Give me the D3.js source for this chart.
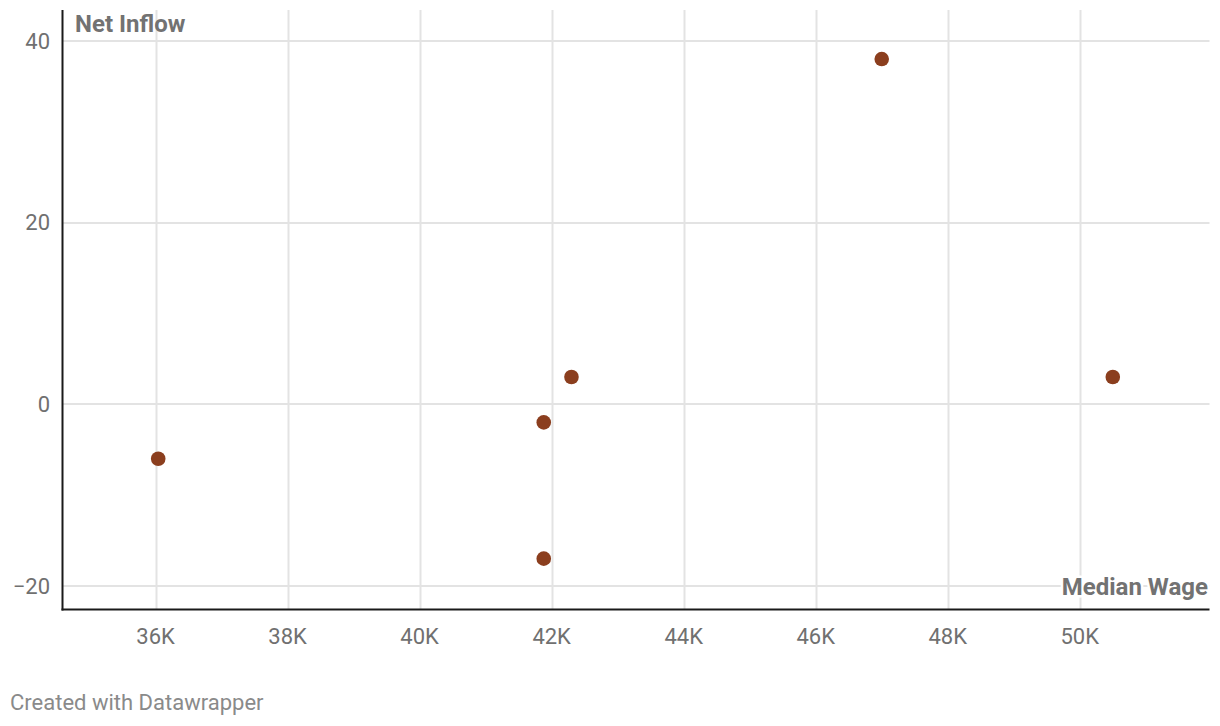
<!DOCTYPE html>
<html>
<head>
<meta charset="utf-8">
<script src="https://cdn.jsdelivr.net/npm/d3@7"></script>
<style>
  html, body { margin: 0; padding: 0; background: #fff; }
  svg { display: block; font-family: Roboto, "Noto Sans", sans-serif; }
</style>
</head>
<body>
<svg id="chart" width="1220" height="726"></svg>
<script>
const wages = [36040, 41880, 41880, 42300, 47000, 50500];
const inflows = [-6, -2, -17, 3, 38, 3];
const xTicks = [36000, 38000, 40000, 42000, 44000, 46000, 48000, 50000];
const yTicks = [-20, 0, 20, 40];
const xTitle = "Median Wage";
const yTitle = "Net Inflow";
const credit = "Created with Datawrapper";

(function () {
const svg = d3.select("#chart");
const pL = 62.5, pR = 1209.5, pT = 10, pB = 609.5;

const x = d3.scaleLinear().domain([34590, 51965]).range([pL, pR]);
const y = d3.scaleLinear().domain([-22.6, 43.4]).range([pB, pT]);

// grid
svg.append("g").selectAll("line").data(xTicks).join("line")
  .attr("x1", d => Math.round(x(d)) + 0.5).attr("x2", d => Math.round(x(d)) + 0.5)
  .attr("y1", pT).attr("y2", pB)
  .attr("stroke", "#e3e3e3").attr("stroke-width", 2);
svg.append("g").selectAll("line").data(yTicks).join("line")
  .attr("y1", d => Math.round(y(d))).attr("y2", d => Math.round(y(d)))
  .attr("x1", pL).attr("x2", pR)
  .attr("stroke", "#e3e3e3").attr("stroke-width", 2);

// axes lines
svg.append("line").attr("x1", pL).attr("x2", pL).attr("y1", pT).attr("y2", pB + 1)
  .attr("stroke", "#1a1a1a").attr("stroke-width", 2);
svg.append("line").attr("x1", pL - 1).attr("x2", pR).attr("y1", pB).attr("y2", pB)
  .attr("stroke", "#1a1a1a").attr("stroke-width", 2);

// tick labels
svg.append("g").selectAll("text").data(yTicks).join("text")
  .attr("x", 50).attr("y", d => y(d)).attr("dy", "0.36em")
  .attr("text-anchor", "end").attr("font-size", 22).attr("fill", "#707070")
  .text(d => d < 0 ? "\u2212" + Math.abs(d) : d);
svg.append("g").selectAll("text").data(xTicks).join("text")
  .attr("x", d => x(d)).attr("y", 644)
  .attr("text-anchor", "middle").attr("font-size", 22).attr("fill", "#707070")
  .text(d => (d / 1000) + "K");

// titles
svg.append("text").attr("x", 75).attr("y", 32)
  .attr("font-size", 24).attr("font-weight", 700).attr("fill", "#727272")
  .text(yTitle);
svg.append("text").attr("x", 1208).attr("y", 595)
  .attr("text-anchor", "end").attr("font-size", 24).attr("font-weight", 700)
  .attr("fill", "#727272").attr("stroke", "#fff").attr("stroke-width", 5)
  .attr("paint-order", "stroke").attr("stroke-linejoin", "round")
  .text(xTitle);

// points
svg.append("g").selectAll("circle").data(wages.map((w, i) => [w, inflows[i]])).join("circle")
  .attr("cx", d => x(d[0])).attr("cy", d => y(d[1])).attr("r", 7.3)
  .attr("fill", "#8b3e1e");

// credit
svg.append("text").attr("x", 10).attr("y", 710)
  .attr("font-size", 22).attr("fill", "#8a8a8a")
  .text(credit);
})();
</script>
</body>
</html>
